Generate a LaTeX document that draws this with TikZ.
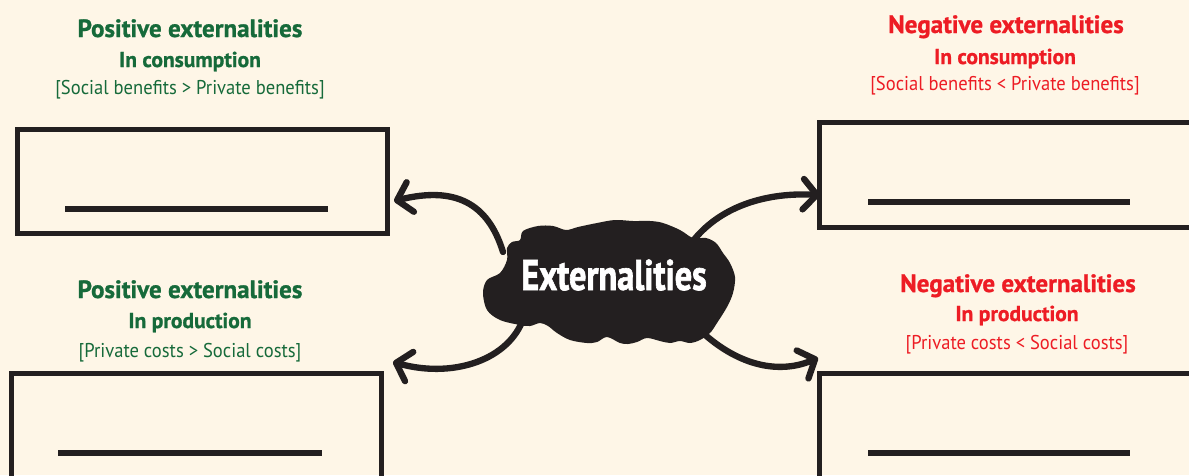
\documentclass[tikz,border=0pt]{standalone}
\usepackage{fontspec}
\setmainfont{PT Sans}
\newfontfamily\headfont[BoldFeatures={FakeBold=1.0}]{PT Sans}
\newfontfamily\narrowfont[FakeStretch=0.93]{PT Sans}
\newfontfamily\cloudfont[FakeStretch=0.80, BoldFeatures={FakeBold=1.5}]{PT Sans}
\usetikzlibrary{arrows.meta,calc}

\definecolor{bg}{RGB}{254,246,231}
\definecolor{posgreen}{RGB}{22,106,58}
\definecolor{negred}{RGB}{237,28,36}
\definecolor{ink}{RGB}{35,31,32}

\tikzset{
  head/.style={anchor=base, inner sep=0pt, font=\headfont\bfseries\fontsize{17.8}{20}\selectfont},
  subhead/.style={anchor=base, inner sep=0pt, font=\headfont\bfseries\fontsize{15.3}{18}\selectfont},
  relation/.style={anchor=base, inner sep=0pt, font=\narrowfont\fontsize{14.2}{17}\selectfont},
  card/.style={draw=ink, line width=3.6pt, inner sep=0pt, outer sep=0pt},
  blank/.style={draw=ink, line width=3.6pt},
  link/.style={draw=ink, line width=4.5pt, line cap=round,
    -{Straight Barb[round, length=0.34cm, width=0.76cm]}},
  cloudtext/.style={anchor=base, inner sep=0pt, text=white,
    font=\cloudfont\bfseries\fontsize{30.5}{34}\selectfont}
}

\begin{document}
\begin{tikzpicture}[x=0.025cm, y=-0.025cm]
  % canvas
  \fill[bg] (0,0) rectangle (1189,475);
  \useasboundingbox (0,0) rectangle (1189,475);
  \clip (0,0) rectangle (1189,475);

  % answer cards
  \node[card, minimum width=9.225cm, minimum height=2.6cm] (cardPC) at (202.5,181.5) {};
  \node[card, minimum width=9.375cm, minimum height=2.625cm] (cardNC) at (1007.5,175) {};
  \node[card, minimum width=9.25cm, minimum height=2.7cm] (cardPP) at (196.5,427.5) {};
  \node[card, minimum width=9.375cm, minimum height=2.7cm] (cardNP) at (1007.5,427.5) {};

  % blanks to fill in
  \draw[blank] (65,209) -- (328,209);
  \draw[blank] (868,202) -- (1130,202);
  \draw[blank] (58,453) -- (322,453);
  \draw[blank] (868,453) -- (1130,453);

  % headings, positive side
  \begin{scope}[text=posgreen]
    \node[head]     (hPC) at (190,37) {Positive externalities};
    \node[subhead]  (sPC) at (190,67) {In consumption};
    \node[relation] (rPC) at (190,94) {[Social benefits > Private benefits]};
    \node[head]     (hPP) at (190,298) {Positive externalities};
    \node[subhead]  (sPP) at (190,328) {In production};
    \node[relation] (rPP) at (190,357) {[Private costs > Social costs]};
  \end{scope}

  % headings, negative side
  \begin{scope}[text=negred]
    \node[head]     (hNC) at (1006,33) {Negative externalities};
    \node[subhead]  (sNC) at (1005,64) {In consumption};
    \node[relation] (rNC) at (1005,90) {[Social benefits < Private benefits]};
    \node[head]     (hNP) at (1018,292) {Negative externalities};
    \node[subhead]  (sNP) at (1017,321) {In production};
    \node[relation] (rNP) at (1017,349) {[Private costs < Social costs]};
  \end{scope}

  % arrow ends
  \coordinate (startPC) at (503,252);
  \coordinate (tipPC) at (394,201);
  \coordinate (startPP) at (522,322);
  \coordinate (tipPP) at (393,362);
  \coordinate (startNC) at (690,245);
  \coordinate (tipNC) at (820,195);
  \coordinate (startNP) at (703,333);
  \coordinate (tipNP) at (818,358);

  \draw[link] (startPC) .. controls (488,203) and (455,186) .. (tipPC);
  \draw[link] (startPP) .. controls (505,362) and (450,378) .. (tipPP);
  \draw[link] (startNC) .. controls (715,210) and (760,192) .. (tipNC);
  \draw[link] (startNP) .. controls (735,362) and (775,376) .. (tipNP);

  % central cloud, with scalloped edges
  \fill[ink] plot[smooth cycle, tension=0.55] coordinates {
    (523,231) (538,226) (553,226) (566,230) (578,227) (597,223) (615,220)
    (633,221) (650,221) (663,223) (680,230) (693,238) (706,238) (716,243)
    (723,253) (730,263) (735,277) (733,293) (727,307) (717,323) (710,333)
    (700,340) (690,343) (680,341) (670,343) (660,341) (647,338) (637,342)
    (628,344) (620,343) (607,337) (597,342) (587,343) (570,340) (557,333)
    (548,326) (540,323) (530,326) (520,325) (500,320) (487,310) (483,293)
    (487,280) (500,273) (507,260) (507,248) (512,242) (520,240)};
  \node[cloudtext] (cloud) at (614,290) {Externalities};
\end{tikzpicture}
\end{document}
